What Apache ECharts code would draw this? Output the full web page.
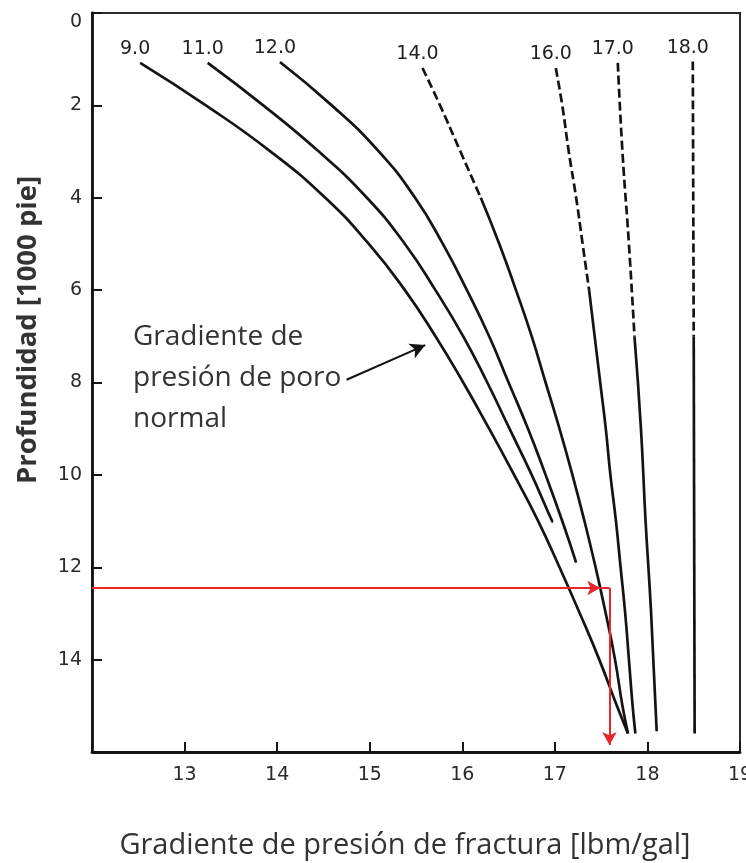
<!DOCTYPE html>
<html>
<head>
<meta charset="utf-8">
<script src="https://cdn.jsdelivr.net/npm/echarts@6/dist/echarts.min.js"></script>
<style>
  html, body { margin: 0; padding: 0; background: #fff; overflow: hidden; width: 746px; height: 863px; }
  #chart { width: 746px; height: 863px; }
</style>
</head>
<body>
<div id="chart"></div>
<script>
// Fracture gradient [lbm/gal] against depth [1000 ft], one curve per
// pore-pressure gradient. Every point is [gradient, depth].
const curveNames = ['9.0', '11.0', '12.0', '14.0', '16.0', '17.0', '18.0'];

const curve90 = [[12.52, 1.08], [13.23, 2], [13.93, 3], [14.52, 4], [14.99, 5], [15.38, 6],
  [15.71, 7], [16.01, 8], [16.29, 9], [16.56, 10], [16.82, 11], [17.05, 12], [17.27, 13],
  [17.48, 14], [17.67, 15], [17.79, 15.6]];
const curve110 = [[13.25, 1.08], [13.85, 2], [14.45, 3], [14.97, 4], [15.38, 5], [15.71, 6],
  [16.01, 7], [16.27, 8], [16.51, 9], [16.75, 10], [16.97, 11], [16.98, 11.02]];
const curve120 = [[14.03, 1.06], [14.59, 2], [15.10, 3], [15.49, 4], [15.79, 5], [16.05, 6],
  [16.29, 7], [16.50, 8], [16.71, 9], [16.90, 10], [17.08, 11], [17.23, 11.9]];
const curve140 = [[15.57, 1.19], [15.76, 2], [15.98, 3], [16.20, 4], [16.40, 5], [16.58, 6],
  [16.75, 7], [16.90, 8], [17.05, 9], [17.19, 10], [17.32, 11], [17.44, 12], [17.55, 13],
  [17.65, 14], [17.73, 15], [17.79, 15.6]];
const curve160 = [[17.01, 1.19], [17.08, 2], [17.15, 3], [17.23, 4], [17.30, 5], [17.37, 6],
  [17.43, 7], [17.49, 8], [17.55, 9], [17.60, 10], [17.66, 11], [17.71, 12], [17.76, 13],
  [17.80, 14], [17.84, 15], [17.87, 15.6]];
const curve170 = [[17.68, 1.08], [17.73, 3], [17.80, 5], [17.86, 7], [17.93, 9], [17.98, 11],
  [18.04, 13], [18.10, 15.55]];
const curve180 = [[18.49, 1.05], [18.50, 7], [18.51, 15.6]];

// Depth down to which each curve is drawn dashed (null: solid throughout).
const dashedToDepth = [null, null, null, 4, 6, 7, 7];

// Worked reading at 12,450 ft.
const exampleDepth = 12.45;
const exampleCurveGradient = 17.49;
const exampleReadGradient = 17.59;
const exampleArrowDepth = 15.85;

// Pointer to the normal pore-pressure curve.
const pointerFrom = [14.75, 7.94];
const pointerTo = [15.60, 7.19];

// Axis ranges and tick steps.
const xMin = 12, xMax = 19, xStep = 1;
const yMin = 0, yMax = 16, yStep = 2;

const curves = [curve90, curve110, curve120, curve140, curve160, curve170, curve180];

const INK = '#141414';
const RED = '#e8262b';
const TICK_FONT = '"DejaVu Sans", "Liberation Sans", sans-serif';

function withTopLabel(points, name) {
  return points.map((p, k) => k === 0
    ? { value: p, label: { show: true, formatter: name } }
    : p);
}

const series = [];
curves.forEach((pts, i) => {
  const cut = dashedToDepth[i];
  const dashed = cut == null ? [] : pts.filter(p => p[1] <= cut);
  const solid = cut == null ? pts : pts.filter(p => p[1] >= cut);
  const base = {
    type: 'line',
    smooth: 0.5,
    symbol: 'circle',
    symbolSize: 0,
    showSymbol: true,
    silent: true,
    z: 3,
    itemStyle: { color: INK },
    label: {
      show: false,
      position: 'top',
      distance: 4,
      offset: [-5, 0],
      fontFamily: TICK_FONT,
      fontSize: 19,
      color: '#222'
    }
  };
  if (dashed.length) {
    series.push(Object.assign({}, base, {
      data: withTopLabel(dashed, curveNames[i]),
      lineStyle: { color: INK, width: 2.7, type: [9, 4] }
    }));
  }
  series.push(Object.assign({}, base, {
    data: dashed.length ? solid : withTopLabel(solid, curveNames[i]),
    lineStyle: { color: INK, width: 2.7, type: 'solid' }
  }));
});

// Annotation arrows: red worked reading and black pointer.
series.push({
  type: 'line',
  data: [],
  silent: true,
  z: 5,
  markLine: {
    silent: true,
    animation: false,
    label: { show: false },
    symbolSize: [11, 13],
    data: [
      [
        { coord: [xMin, exampleDepth], symbol: 'none' },
        { coord: [exampleCurveGradient, exampleDepth], symbol: 'arrow' }
      ],
      [
        { coord: [exampleCurveGradient, exampleDepth], symbol: 'none' },
        { coord: [exampleReadGradient, exampleDepth], symbol: 'none' }
      ],
      [
        { coord: [exampleReadGradient, exampleDepth], symbol: 'none' },
        { coord: [exampleReadGradient, exampleArrowDepth], symbol: 'arrow' }
      ]
    ],
    lineStyle: { color: RED, width: 2, type: 'solid' }
  }
});
series.push({
  type: 'line',
  data: [],
  silent: true,
  z: 5,
  markLine: {
    silent: true,
    animation: false,
    label: { show: false },
    symbolSize: [12, 15],
    data: [[
      { coord: pointerFrom, symbol: 'none' },
      { coord: pointerTo, symbol: 'arrow' }
    ]],
    lineStyle: { color: INK, width: 2, type: 'solid' }
  }
});

const chart = echarts.init(document.getElementById('chart'), null, {
  renderer: 'canvas', width: 746, height: 863
});
chart.setOption({
  animation: false,
  backgroundColor: '#fff',
  grid: {
    left: 92, right: 6, top: 13, bottom: 111,
    containLabel: false,
    outerBoundsMode: 'none',
    show: true, borderColor: '#2a2a2a', borderWidth: 2, backgroundColor: 'transparent'
  },
  xAxis: {
    type: 'value',
    min: xMin, max: xMax, interval: xStep,
    axisLine: { show: true, onZero: false, lineStyle: { color: INK, width: 2.8 } },
    axisTick: { show: true, inside: true, length: 10, lineStyle: { color: INK, width: 2 } },
    axisLabel: {
      showMinLabel: false, margin: 14,
      fontFamily: TICK_FONT, fontSize: 19, color: '#2a2a2a'
    },
    splitLine: { show: false }
  },
  yAxis: {
    type: 'value',
    inverse: true,
    min: yMin, max: yMax, interval: yStep,
    axisLine: { show: true, onZero: false, lineStyle: { color: INK, width: 2.8 } },
    axisTick: { show: true, inside: true, length: 10, lineStyle: { color: INK, width: 2 } },
    axisLabel: {
      showMaxLabel: false, margin: 10,
      fontFamily: TICK_FONT, fontSize: 19, color: '#2a2a2a',
      // the top label sits just below the frame corner
      formatter: v => (v === yMin ? '{first|' + v + '}' : String(v)),
      rich: {
        first: {
          fontFamily: TICK_FONT, fontSize: 19, color: '#2a2a2a',
          padding: [18, 0, 0, 0]
        }
      }
    },
    splitLine: { show: false }
  },
  graphic: [
    {
      type: 'text',
      x: 28, y: 330,
      rotation: Math.PI / 2,
      style: {
        text: 'Profundidad [1000 pie]',
        font: 'bold 27.5px "Open Sans", sans-serif',
        fill: '#333',
        align: 'center',
        verticalAlign: 'middle'
      }
    },
    {
      type: 'text',
      x: 405, y: 846,
      style: {
        text: 'Gradiente de presión de fractura [lbm/gal]',
        font: '29px "Open Sans", sans-serif',
        fill: '#333',
        align: 'center',
        verticalAlign: 'middle'
      }
    },
    {
      type: 'text',
      x: 133, y: 317,
      style: {
        text: 'Gradiente de\npresión de poro\nnormal',
        font: '28px "Open Sans", sans-serif',
        lineHeight: 41,
        fill: '#333',
        align: 'left',
        verticalAlign: 'top'
      }
    }
  ],
  series: series
});
</script>
</body>
</html>
